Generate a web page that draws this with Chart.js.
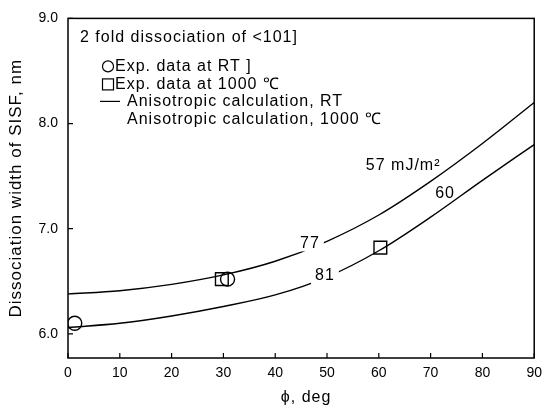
<!DOCTYPE html>
<html><head><meta charset="utf-8">
<script src="https://cdn.jsdelivr.net/npm/chart.js@4/dist/chart.umd.min.js"></script>
<style>html,body{margin:0;padding:0;background:#fff}#wrap{width:549px;height:409px;position:relative}</style>
</head><body><div id="wrap"><canvas id="c"></canvas></div>
<script>
// ---- data ----
const phiDeg      = [0, 10, 20, 30, 40, 50, 60, 70, 80, 90];
const calcRT      = [6.38, 6.41, 6.47, 6.56, 6.69, 6.88, 7.13, 7.45, 7.81, 8.20];
const calc1000    = [6.06, 6.10, 6.17, 6.26, 6.37, 6.54, 6.79, 7.11, 7.46, 7.80];
const expRTphi    = [1.3, 30.8];
const expRTwidth  = [6.10, 6.52];
const exp1000phi  = [29.7, 60.3];
const exp1000width= [6.52, 6.82];
const xTickValues = [0, 10, 20, 30, 40, 50, 60, 70, 80, 90];
const yTickValues = [6, 7, 8, 9];
const curveLabelText = ['77', '81', '57 mJ/m\u00B2', '60'];
const curveLabelPhi  = [46.7, 49.6, 57.5, 72.8];
const curveLabelW    = [6.86, 6.55, 7.60, 7.33];
const legendTitle = '2 fold dissociation of <101]';
const legendItems = ['Exp. data at RT ]', 'Exp. data at 1000 \u2103', 'Anisotropic calculation, RT', 'Anisotropic calculation, 1000 \u2103'];
const xTitle = '\u03D5, deg';
const yTitle = 'Dissociation width of SISF, nm';

const FONT = "'Liberation Sans', Arial, Helvetica, sans-serif";
const toXY = (xs, ys) => xs.map((x, i) => ({x, y: ys[i]}));

const decor = {
  id: 'decor',
  afterDraw(chart) {
    const {ctx, chartArea: a, scales: {x, y}} = chart;
    ctx.save();
    // frame
    ctx.strokeStyle = '#000'; ctx.lineWidth = 1.5;
    ctx.strokeRect(a.left, a.top, a.right - a.left, a.bottom - a.top);
    // inward ticks
    ctx.lineWidth = 1.2;
    ctx.beginPath();
    xTickValues.forEach(v => { const px = x.getPixelForValue(v); ctx.moveTo(px, a.bottom); ctx.lineTo(px, a.bottom - 5); });
    yTickValues.forEach(v => { const py = y.getPixelForValue(v); ctx.moveTo(a.left, py); ctx.lineTo(a.left + 5, py); });
    ctx.stroke();
    ctx.letterSpacing = '1px';
    // curve labels
    ctx.font = '16px ' + FONT;
    ctx.textBaseline = 'middle';
    curveLabelText.forEach((t, i) => {
      const px = x.getPixelForValue(curveLabelPhi[i]);
      const py = y.getPixelForValue(curveLabelW[i]);
      const w = ctx.measureText(t).width;
      if (i < 2) {
        ctx.fillStyle = '#fff';
        ctx.fillRect(px - w / 2 - 4, py - 8, w + 8, 16);
        ctx.fillStyle = '#000'; ctx.textAlign = 'center';
        ctx.fillText(t, px, py);
      } else {
        ctx.fillStyle = '#000'; ctx.textAlign = i === 2 ? 'left' : 'center';
        ctx.fillText(t, px, py);
      }
    });
    // legend (inside plot, top-left)
    ctx.textAlign = 'left';
    ctx.fillStyle = '#000';
    ctx.fillText(legendTitle, a.left + 12, a.top + 19);
    const lx = a.left + 40, ty = [a.top + 48, a.top + 66, a.top + 83, a.top + 101];
    ctx.lineWidth = 1.2;
    ctx.beginPath(); ctx.arc(lx, ty[0], 5.5, 0, Math.PI * 2); ctx.stroke();
    ctx.strokeRect(lx - 5.5, ty[1] - 5.5, 11, 11);
    ctx.beginPath(); ctx.moveTo(lx - 8, ty[2]); ctx.lineTo(lx + 12, ty[2]); ctx.stroke();
    ctx.fillText(legendItems[0], lx + 7, ty[0]);
    ctx.fillText(legendItems[1], lx + 7, ty[1]);
    ctx.fillText(legendItems[2], lx + 19, ty[2]);
    ctx.fillText(legendItems[3], lx + 19, ty[3]);
    // axis titles
    ctx.textAlign = 'center';
    ctx.font = '16px ' + FONT;
    ctx.fillText(xTitle, (a.left + a.right) / 2 + 5, 398);
    ctx.font = '17px ' + FONT;
    ctx.translate(16, (a.top + a.bottom) / 2);
    ctx.rotate(-Math.PI / 2);
    ctx.fillText(yTitle, 0, 0);
    ctx.restore();
  }
};

new Chart(document.getElementById('c'), {
  type: 'scatter',
  data: {
    datasets: [
      {label: 'Anisotropic calculation, RT', type: 'line', data: toXY(phiDeg, calcRT), borderColor: '#000', borderWidth: 1.4, pointRadius: 0, cubicInterpolationMode: 'monotone', fill: false},
      {label: 'Anisotropic calculation, 1000 \u2103', type: 'line', data: toXY(phiDeg, calc1000), borderColor: '#000', borderWidth: 1.4, pointRadius: 0, cubicInterpolationMode: 'monotone', fill: false},
      {label: 'Exp. data at RT', data: toXY(expRTphi, expRTwidth), pointStyle: 'circle', pointRadius: 7, borderColor: '#000', borderWidth: 1.4, backgroundColor: 'rgba(0,0,0,0)'},
      {label: 'Exp. data at 1000 \u2103', data: toXY(exp1000phi, exp1000width), pointStyle: 'rect', pointRadius: 9, borderColor: '#000', borderWidth: 1.4, backgroundColor: 'rgba(0,0,0,0)'}
    ]
  },
  options: {
    responsive: true, maintainAspectRatio: false, animation: false,
    layout: {padding: {top: 12, right: 11, left: 0, bottom: 0}},
    plugins: {legend: {display: false}, tooltip: {enabled: false}},
    scales: {
      x: {
        type: 'linear', min: 0, max: 90,
        afterFit: s => { s.height = 51; },
        afterBuildTicks: s => { s.ticks = xTickValues.map(v => ({value: v})); },
        grid: {display: false, drawTicks: false},
        border: {display: false},
        ticks: {padding: 7, color: '#000', font: {family: FONT, size: 14}, maxRotation: 0}
      },
      y: {
        type: 'linear', min: 5.77, max: 9.0,
        afterFit: s => { s.width = 68; },
        afterBuildTicks: s => { s.ticks = yTickValues.map(v => ({value: v})); },
        grid: {display: false, drawTicks: false},
        border: {display: false},
        ticks: {padding: 10, color: '#000', font: {family: FONT, size: 14}, callback: v => v.toFixed(1)}
      }
    }
  },
  plugins: [decor]
});
</script></body></html>
